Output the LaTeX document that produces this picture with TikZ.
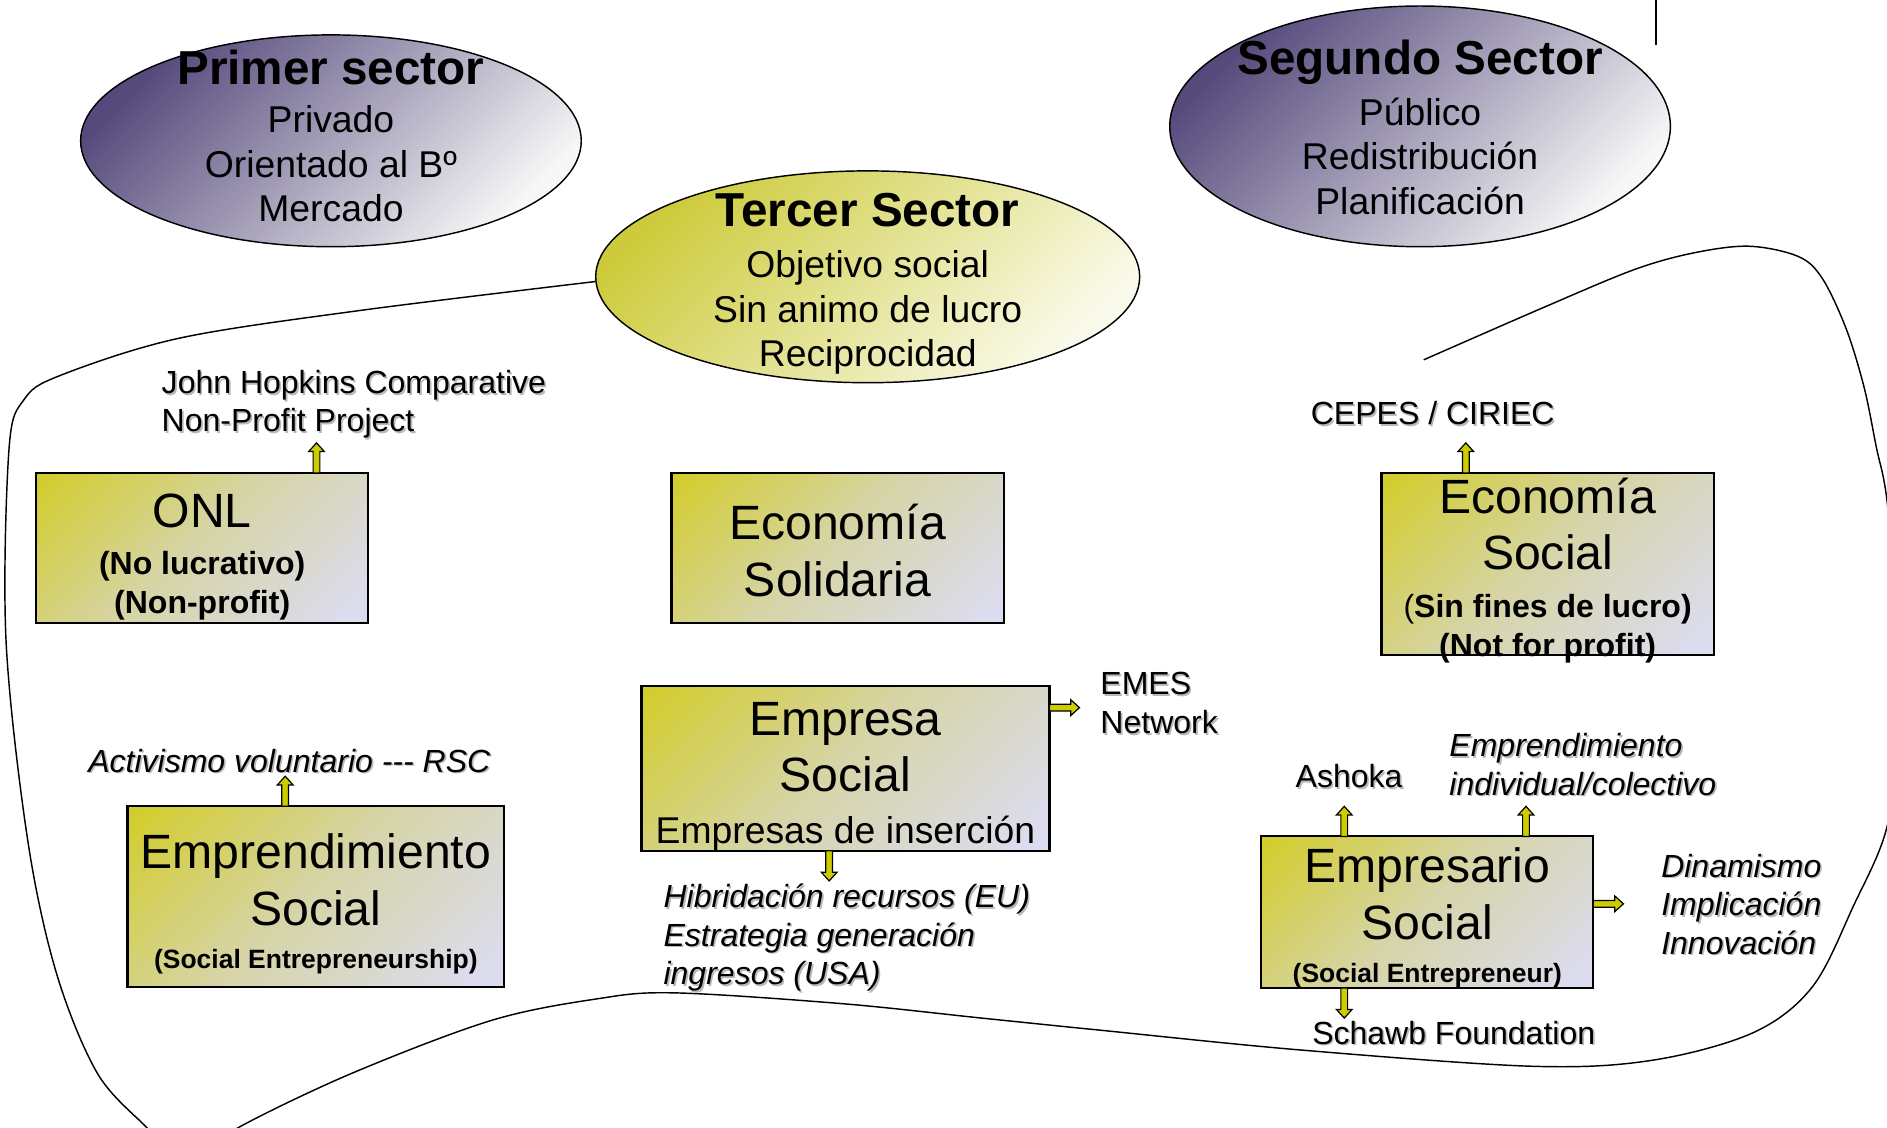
\documentclass[tikz,border=0pt]{standalone}
\usepackage{fontspec}
\setmainfont{Liberation Sans}
\usetikzlibrary{shapes.geometric,calc}
\definecolor{purD}{RGB}{86,74,124}
\definecolor{purL}{RGB}{247,247,247}
\definecolor{yelD}{RGB}{205,203,60}
\definecolor{yelL}{RGB}{250,250,236}
\definecolor{boxY}{RGB}{210,204,30}
\definecolor{boxM}{RGB}{214,212,166}
\definecolor{boxL}{RGB}{220,220,240}
\definecolor{arrY}{RGB}{204,204,0}
\pgfdeclareverticalshading{boxgrad}{100bp}{color(0bp)=(boxL); color(18bp)=(boxL); color(52bp)=(boxM); color(88bp)=(boxY); color(100bp)=(boxY)}
\newcommand\txsh[1]{\makebox[0pt][l]{\kern0.7pt\raisebox{-0.7pt}{\textcolor{black!28}{#1}}}#1}
\newcommand\ftTitle{\fontsize{19.8pt}{18.5pt}\bfseries\selectfont}
\newcommand\ftBig{\fontsize{20pt}{23.5pt}\mdseries\selectfont}
\newcommand\ftMid{\fontsize{15.5pt}{18.5pt}\selectfont}
\newcommand\ftLab{\fontsize{13.3pt}{16pt}\selectfont}
\newcommand\ftLabB{\fontsize{13.3pt}{16pt}\bfseries\selectfont}
\newcommand\ftSm{\fontsize{11pt}{13pt}\bfseries\selectfont}
\begin{document}
\begin{tikzpicture}[x=0.5pt,y=-0.5pt,
  pell/.style={ellipse, draw=black, line width=0.6pt, inner sep=0pt, top color=purD, bottom color=purL, shading angle=45},
  yell/.style={ellipse, draw=black, line width=0.6pt, inner sep=0pt, top color=yelD, bottom color=yelL, shading angle=45},
  sbox/.style={rectangle, draw=black, line width=0.9pt, inner sep=0pt, outer sep=0pt, shading=boxgrad, shading angle=45},
  txt/.style={inner sep=0pt, align=center},
  lbl/.style={inner sep=0pt, align=left, anchor=west, font=\ftLab},
  ilbl/.style={inner sep=0pt, align=left, anchor=west, font=\ftLab\itshape},
  slbl/.style={inner sep=0pt, anchor=base, font=\ftLab},
  curve/.style={line width=0.6pt, black},
  barrow/.pic={\draw[fill=arrY, line width=0.5pt, line join=miter] (0pt,-1.4pt) -- (8.9pt,-1.4pt) -- (8.9pt,-3.25pt) -- (12.5pt,0pt) -- (8.9pt,3.25pt) -- (8.9pt,1.4pt) -- (0pt,1.4pt) -- cycle;}
]
\useasboundingbox (0,0) rectangle (1568,937.3);

% ellipses
\node[pell, minimum width=208pt, minimum height=88pt] (prim) at (275,117) {};
\node[pell, minimum width=208pt, minimum height=100pt] (seg) at (1180,105) {};
\node[yell, minimum width=226pt, minimum height=88pt] (ter) at (721,230) {};

% free curves
\coordinate (vt) at (1376,0);
\coordinate (vb) at (1376,37);
\draw[curve] (vt) -- (vb);
\draw[curve] plot[smooth, tension=0.55] coordinates {(ter.181) (299,258) (149,281) (50,312) (20,332) (7.5,373) (5,532) (23,698) (47,809) (81,892) (122,937) (140,955)};
\draw[curve] plot[smooth, tension=0.55] coordinates {(1183,299) (1283,255.3) (1358,224) (1408,210) (1453.5,204.6) (1494,213) (1514,231) (1534,273) (1549,322) (1559,371) (1568,416) (1577,520) (1578,600) (1568,687) (1540,753) (1506,820) (1457,858) (1373,881) (1273,886) (1081,872.5) (914,856) (816,846) (700,834) (560,825) (496,830) (408,848) (292,892) (198,937) (170,960)};

% boxes
\node[sbox, minimum width=138pt, minimum height=62.5pt] (onl) at (168,455.5) {};
\node[sbox, minimum width=138pt, minimum height=62.5pt] (esol) at (696,455.5) {};
\node[sbox, minimum width=138pt, minimum height=75.5pt] (esoc) at (1286,468.5) {};
\node[sbox, minimum width=169.5pt, minimum height=68.5pt] (emp) at (702.5,638.5) {};
\node[sbox, minimum width=156.5pt, minimum height=75pt] (ems) at (262.5,745) {};
\node[sbox, minimum width=138pt, minimum height=63pt] (emr) at (1186,758) {};

% arrows
\pic[rotate=90] at ($(onl.north)+(95,0)$) {barrow};
\pic[rotate=90] at ($(esoc.north)+(-68,0)$) {barrow};
\pic at ($(emp.east)+(0,-50.5)$) {barrow};
\pic[rotate=-90] at ($(emp.south)+(-13.5,0)$) {barrow};
\pic[rotate=90] at ($(ems.north)+(-25.5,0)$) {barrow};
\pic[rotate=90] at ($(emr.north)+(-69,0)$) {barrow};
\pic[rotate=90] at ($(emr.north)+(82,0)$) {barrow};
\pic at ($(emr.east)+(0,-7)$) {barrow};
\pic[rotate=-90] at ($(emr.south)+(-69,0)$) {barrow};

% ellipse texts
\node[txt, font=\ftMid] (primt) at (275,113) {{\ftTitle Primer sector}\\[1.5pt] Privado\\ Orientado al Bº\\ Mercado};
\node[txt, font=\ftMid] (segt) at (1180,106) {{\ftTitle Segundo Sector}\\[2.5pt] Público\\ Redistribución\\ Planificación};
\node[txt, font=\ftMid] (tert) at (721,236) {{\ftTitle Tercer Sector}\\[2.5pt] Objetivo social\\ Sin animo de lucro\\ Reciprocidad};

% box texts
\node[txt, font=\ftLabB] (onlt) at (168,463) {{\ftBig ONL}\\[3.5pt] (No lucrativo)\\ (Non-profit)};
\node[txt, font=\ftBig] (esolt) at (696,457.5) {Economía\\ Solidaria};
\node[txt, font=\ftBig] (esoct) at (1286,474) {Economía\\ Social\\[-3.5pt] {\ftLabB{\mdseries(}Sin fines de lucro)}\\[-7.5pt] {\ftLabB (Not for profit)}};
\node[txt, font=\ftBig] (empt) at (702.5,645.5) {Empresa\\ Social\\[-2pt] {\ftMid Empresas de inserción}};
\node[txt, font=\ftBig] (emst) at (262.5,751) {Emprendimiento\\ Social\\[-5.5pt] {\ftSm (Social Entrepreneurship)}};
\node[txt, font=\ftBig] (emrt) at (1186,763) {Empresario\\ Social\\[-5.5pt] {\ftSm (Social Entrepreneur)}};

% outside labels
\node[lbl] (jh) at (134,336.7) {\txsh{John Hopkins Comparative}\\ \txsh{Non-Profit Project}};
\node[slbl] (cep) at (1190.5,352.6) {\txsh{CEPES / CIRIEC}};
\node[lbl] (emes) at (914,585) {\txsh{EMES}\\ \txsh{Network}};
\node[ilbl] (hib) at (551,779.8) {\txsh{Hibridación recursos (EU)}\\ \txsh{Estrategia generación}\\ \txsh{ingresos (USA)}};
\node[inner sep=0pt, anchor=base west, font=\ftLab\itshape] (act) at (73,641.6) {\txsh{Activismo voluntario -{}-{}- RSC}};
\node[slbl] (ash) at (1121,654.6) {\txsh{Ashoka}};
\node[ilbl] (eic) at (1204,636) {\txsh{Emprendimiento}\\ \txsh{individual/colectivo}};
\node[ilbl] (din) at (1380,752) {\txsh{Dinamismo}\\ \txsh{Implicación}\\ \txsh{Innovación}};
\node[inner sep=0pt, anchor=base west, font=\ftLab] (sch) at (1090,867.6) {\txsh{Schawb Foundation}};
\end{tikzpicture}
\end{document}
